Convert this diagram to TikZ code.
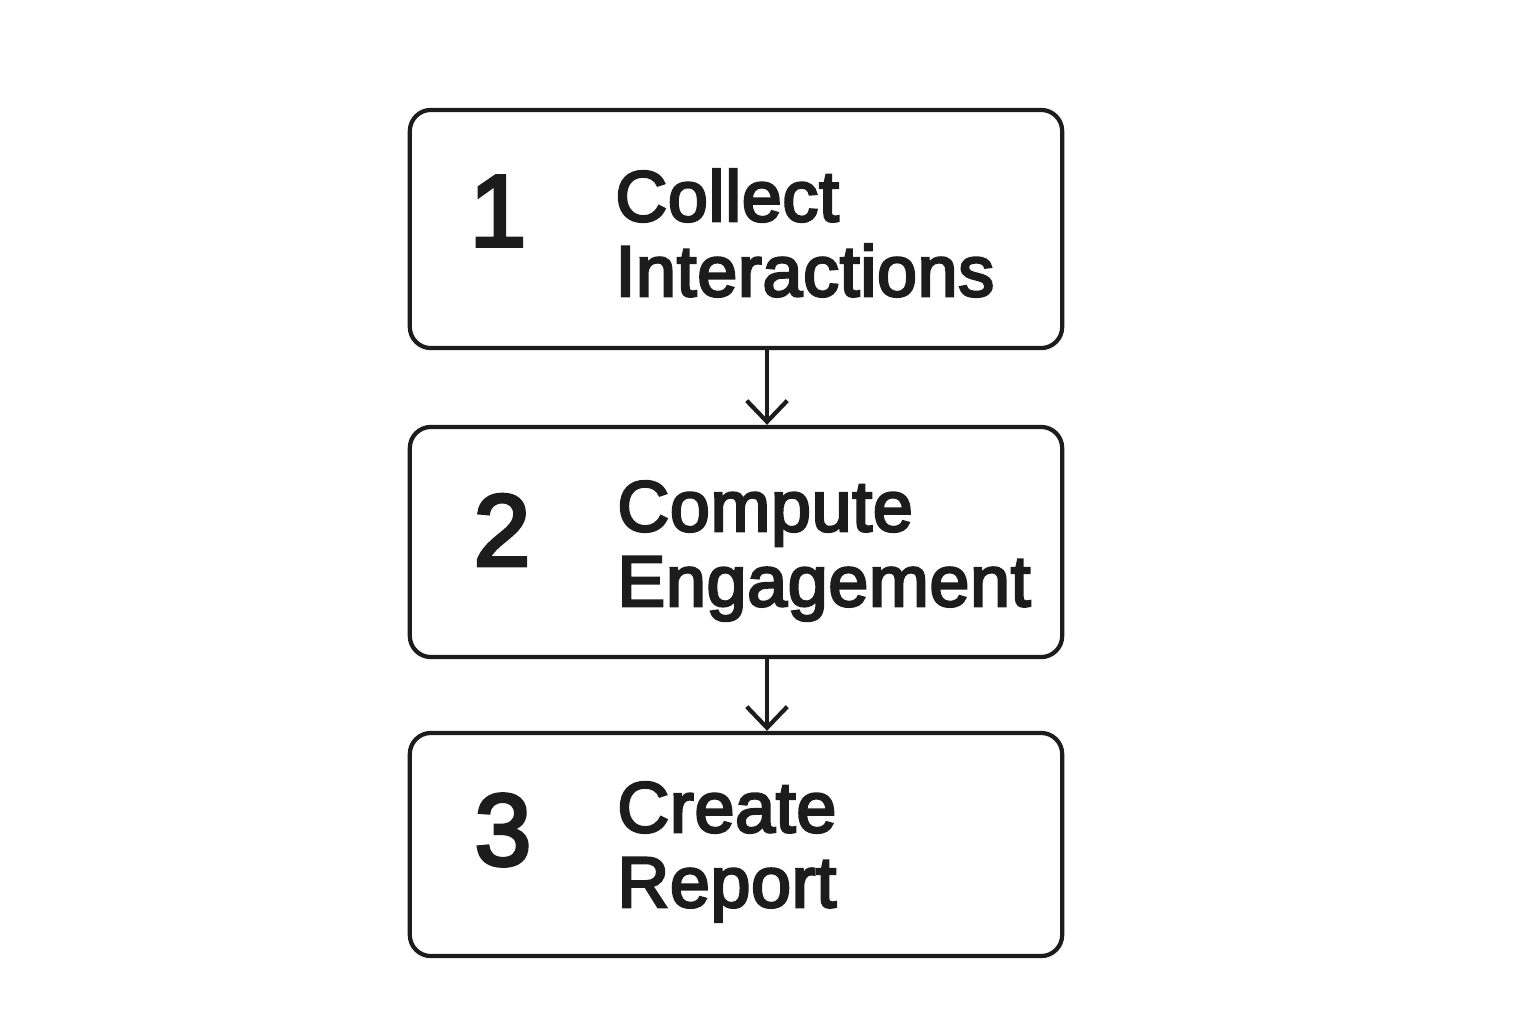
\documentclass[tikz,border=0pt]{standalone}
\usepackage{fontspec}
\setmainfont{Liberation Sans}[RawFeature={embolden=3.5},LetterSpace=1]
\usetikzlibrary{arrows.meta}
\definecolor{ink}{HTML}{1C1C1C}

\begin{document}
\begin{tikzpicture}[x=0.01cm,y=-0.01cm,
  stepbox/.style={draw=ink,line width=1.2pt,rounded corners=6pt,minimum width=6.52cm},
  num/.style={text=ink,font=\fontsize{29}{30}\selectfont},
  lbl/.style={text=ink,anchor=west,align=left,font=\fontsize{20.4}{21.3}\selectfont}]
\useasboundingbox (0,0) rectangle (1536,1024);
\node[stepbox,minimum height=2.38cm] (b1) at (736,229) {};
\node[stepbox,minimum height=2.30cm] (b2) at (736,542) {};
\node[stepbox,minimum height=2.23cm] (b3) at (736,844.5) {};
\node[num] (n1) at (498,211) {1};
\node[num] (n2) at (502,530) {2};
\node[num] (n3) at (503,830) {3};
\node[lbl] (t1) at (603,233) {Collect\\Interactions};
\node[lbl] (t2) at (605,551) {Compute\\Engagement};
\node[lbl] (t3) at (605,852) {Create\\Report};
\coordinate (a1) at (767,0);
\draw[ink,line width=1.2pt,-{Straight Barb[length=6pt,width=11.5pt]}] (b1.south -| a1) -- (b2.north -| a1);
\draw[ink,line width=1.2pt,-{Straight Barb[length=6pt,width=11.5pt]}] (b2.south -| a1) -- (b3.north -| a1);
\end{tikzpicture}
\end{document}
